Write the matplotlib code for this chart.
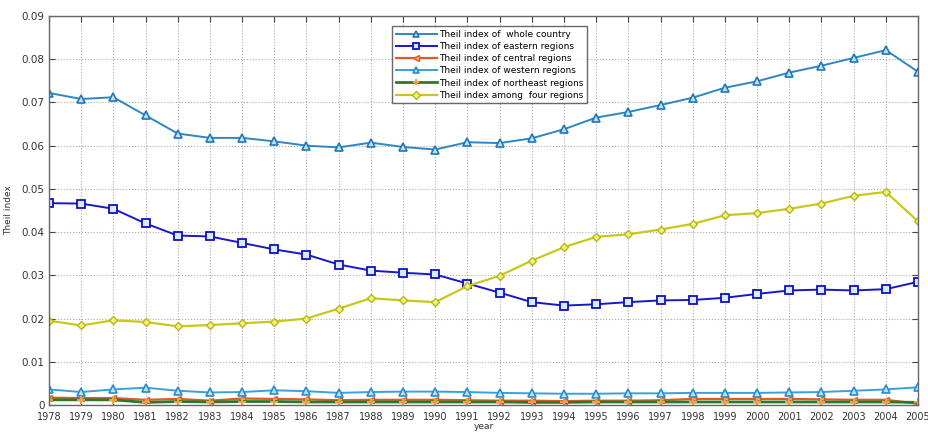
import matplotlib
matplotlib.use("Agg")
import matplotlib.pyplot as plt

years = list(range(1978, 2006))

whole_country = [0.0722, 0.0708, 0.0712, 0.0670, 0.0628, 0.0618, 0.0618, 0.0610, 0.0600, 0.0596,
                 0.0607, 0.0597, 0.0591, 0.0608, 0.0606, 0.0617, 0.0638, 0.0665, 0.0678, 0.0694,
                 0.0711, 0.0734, 0.0749, 0.0769, 0.0785, 0.0803, 0.0821, 0.0771]
eastern = [0.0467, 0.0466, 0.0454, 0.0420, 0.0392, 0.0390, 0.0375, 0.0360, 0.0348, 0.0325,
           0.0311, 0.0306, 0.0302, 0.0281, 0.0260, 0.0238, 0.0230, 0.0233, 0.0238, 0.0242,
           0.0243, 0.0248, 0.0257, 0.0265, 0.0267, 0.0265, 0.0268, 0.0285]
central = [0.0017, 0.0016, 0.0016, 0.0012, 0.0014, 0.0010, 0.0015, 0.0014, 0.0013, 0.0011,
           0.0012, 0.0012, 0.0012, 0.0011, 0.0010, 0.0010, 0.0009, 0.0010, 0.0010, 0.0011,
           0.0014, 0.0014, 0.0014, 0.0014, 0.0013, 0.0012, 0.0012, 0.0003]
western = [0.0036, 0.0030, 0.0036, 0.0040, 0.0033, 0.0029, 0.0030, 0.0034, 0.0032, 0.0028,
           0.0030, 0.0031, 0.0031, 0.0030, 0.0028, 0.0027, 0.0026, 0.0026, 0.0027, 0.0027,
           0.0028, 0.0028, 0.0028, 0.0029, 0.0030, 0.0033, 0.0036, 0.0041]
northeast = [0.0012, 0.0012, 0.0012, 0.0006, 0.0008, 0.0007, 0.0008, 0.0008, 0.0007, 0.0007,
             0.0007, 0.0007, 0.0007, 0.0007, 0.0007, 0.0006, 0.0006, 0.0007, 0.0007, 0.0007,
             0.0007, 0.0007, 0.0007, 0.0007, 0.0007, 0.0007, 0.0007, 0.0006]
four_regions = [0.0195, 0.0184, 0.0196, 0.0192, 0.0182, 0.0185, 0.0189, 0.0193, 0.0200, 0.0223,
                0.0247, 0.0242, 0.0238, 0.0275, 0.0299, 0.0334, 0.0365, 0.0389, 0.0395, 0.0406,
                0.0419, 0.0439, 0.0444, 0.0454, 0.0466, 0.0484, 0.0493, 0.0425]

y_ticks = [0, 0.01, 0.02, 0.03, 0.04, 0.05, 0.06, 0.07, 0.08, 0.09]
y_tick_labels = ["0", "0.01", "0.02", "0.03", "0.04", "0.05", "0.06", "0.07", "0.08", "0.09"]

fig = plt.figure(figsize=(9.29, 4.32), dpi=100)
ax = fig.add_axes([49 / 929, 27 / 432, 869 / 929, 389 / 432])

ax.plot(years, whole_country, color="#2f86c0", lw=1.4, marker="^", ms=5.5,
        mfc="#bfe0f5", mec="#1f78b8", mew=1.2, label="Theil index of  whole country")
ax.plot(years, eastern, color="#1818c8", lw=1.4, marker="s", ms=5.5,
        mfc="#d8ecff", mec="#1010c0", mew=1.3, label="Theil index of eastern regions")
ax.plot(years, central, color="#e05a28", lw=1.6, marker="<", ms=5,
        mfc="#f0b060", mec="#e05a28", mew=1.0, label="Theil index of central regions")
ax.plot(years, western, color="#3aa0dc", lw=1.4, marker="^", ms=5.5,
        mfc="#bfe0f5", mec="#2a8ccc", mew=1.2, label="Theil index of western regions")
ax.plot(years, northeast, color="#2a7a2a", lw=2.0, marker="+", ms=6,
        mec="#f0a040", mew=1.5, label="Theil index of northeast regions")
ax.plot(years, four_regions, color="#c8c81c", lw=1.6, marker="D", ms=4.5,
        mfc="#f0f080", mec="#b8b818", mew=1.0, label="Theil index among  four regions")

ax.set_xlim(1978, 2005)
ax.set_ylim(0, 0.09)
ax.set_xticks(years)
ax.set_xticklabels([str(y) for y in years], fontsize=7, color="#333333")
ax.set_yticks(y_ticks)
ax.set_yticklabels(y_tick_labels, fontsize=7.5, color="#333333")
ax.tick_params(direction="in", length=4, color="#444444", top=True, right=True)
ax.tick_params(axis="x", pad=5)
ax.tick_params(axis="y", pad=3)
ax.grid(True, linestyle=":", color="#aaaaaa", lw=0.8)
for s in ax.spines.values():
    s.set_color("#666666")
    s.set_linewidth(1.0)

ax.set_xlabel("year", fontsize=6.5, color="#333333", labelpad=0)
ax.set_ylabel("Theil index", fontsize=6.5, color="#333333", labelpad=6)

leg = ax.legend(loc="upper left", bbox_to_anchor=(0.39, 0.985), fontsize=6.5,
                frameon=True, fancybox=False, edgecolor="#444444", borderpad=0.4,
                labelspacing=0.35, handlelength=4.5, handletextpad=0.3, markerscale=0.8)
leg.get_frame().set_linewidth(1.0)

fig.savefig("out.png", dpi=100, facecolor="white")
